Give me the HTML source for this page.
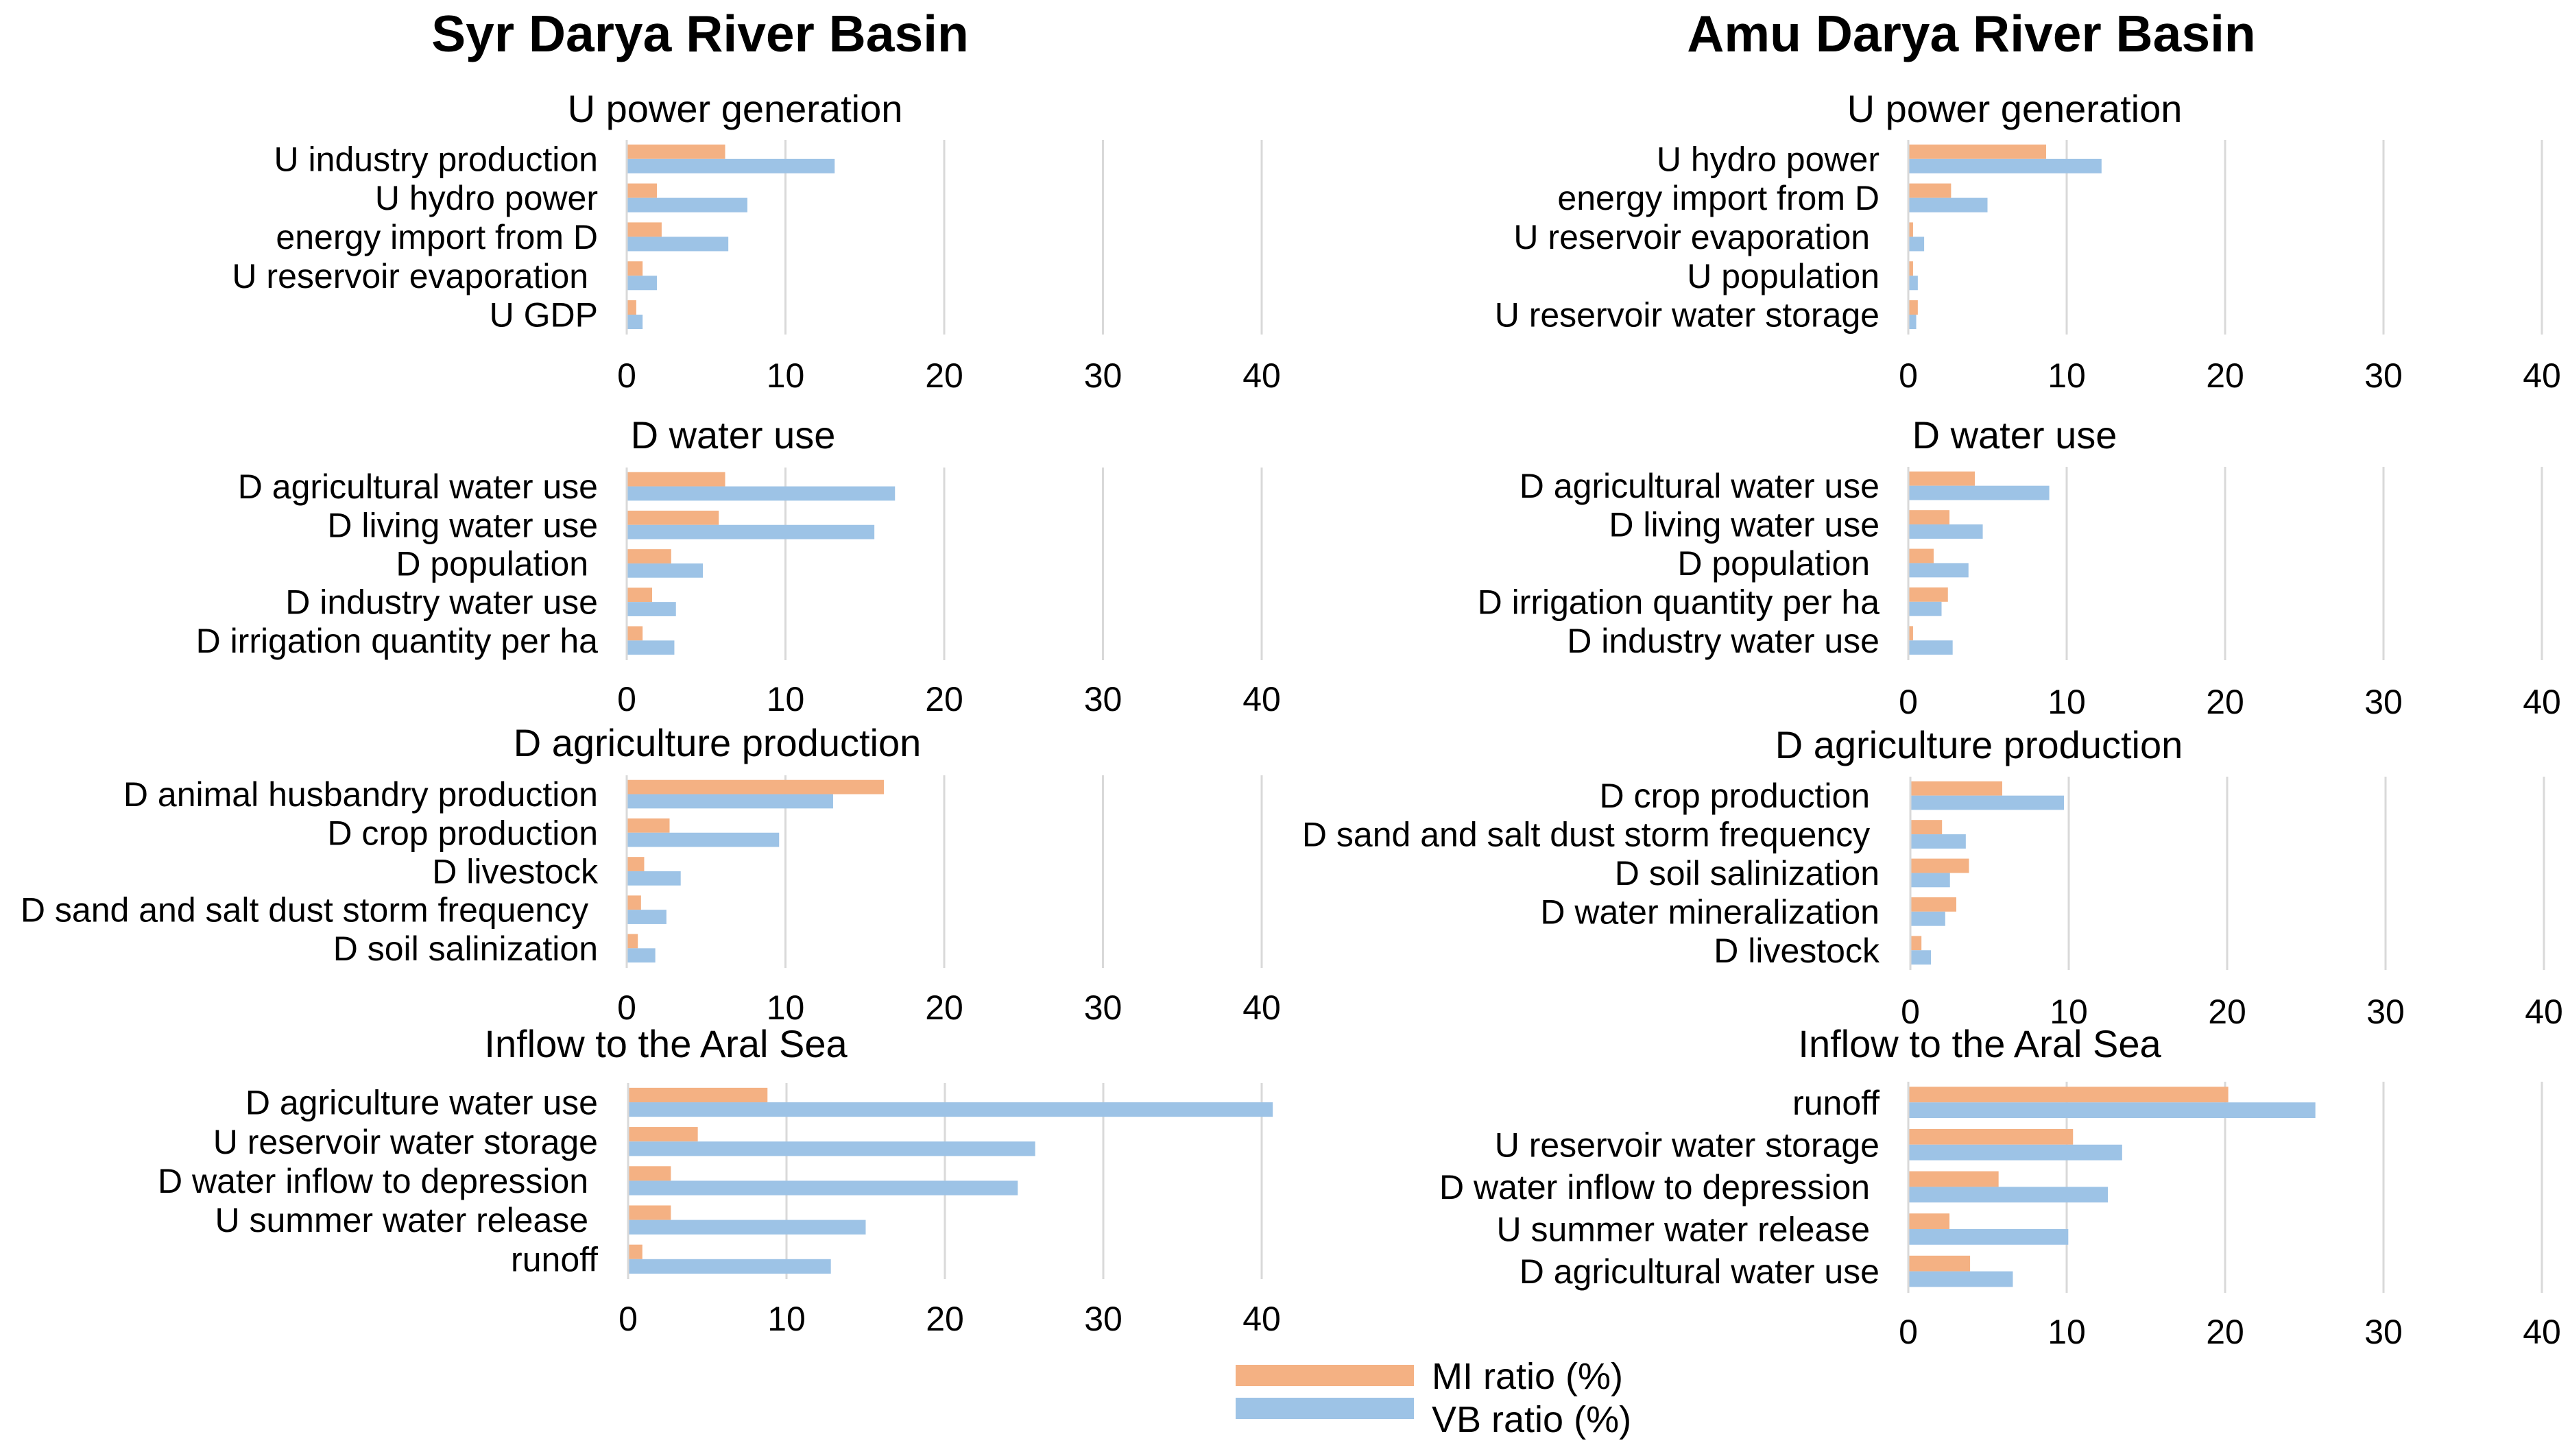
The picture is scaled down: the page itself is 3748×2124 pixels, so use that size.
<!DOCTYPE html>
<html><head><meta charset="utf-8">
<style>
html,body{margin:0;padding:0;background:#fff;}
svg{display:block;font-family:"Liberation Sans",Arial,sans-serif;}
</style></head>
<body>
<svg id="chart" width="3748" height="2124" viewBox="0 0 3748 2124" xmlns="http://www.w3.org/2000/svg">
<rect width="3748" height="2124" fill="#fff"/>
<text x="1021" y="75" font-size="75" font-weight="bold" text-anchor="middle">Syr Darya River Basin</text>
<text x="2875" y="75" font-size="75" font-weight="bold" text-anchor="middle">Amu Darya River Basin</text>
<g>
<rect x="1802" y="1991" width="260" height="31" fill="#F4B183"/>
<rect x="1802" y="2039" width="260" height="31" fill="#9DC3E6"/>
<text x="2088" y="2026" font-size="54">MI ratio (%)</text>
<text x="2088" y="2089" font-size="54">VB ratio (%)</text>
</g>
</svg>
<script>
// ---- data ----
const tickValues = [0, 10, 20, 30, 40];
const catsL1 = ["U industry production","U hydro power","energy import from D","U reservoir evaporation\u00a0","U GDP"];
const miL1 = [6.2, 1.9, 2.2, 1.0, 0.6];
const vbL1 = [13.1, 7.6, 6.4, 1.9, 1.0];
const catsL2 = ["D agricultural water use","D living water use","D population\u00a0","D industry water use","D irrigation quantity per ha"];
const miL2 = [6.2, 5.8, 2.8, 1.6, 1.0];
const vbL2 = [16.9, 15.6, 4.8, 3.1, 3.0];
const catsL3 = ["D animal husbandry production","D crop production","D livestock","D sand and salt dust storm frequency\u00a0","D soil salinization"];
const miL3 = [16.2, 2.7, 1.1, 0.9, 0.7];
const vbL3 = [13.0, 9.6, 3.4, 2.5, 1.8];
const catsL4 = ["D agriculture water use","U reservoir water storage","D water inflow to depression\u00a0","U summer water release\u00a0","runoff"];
const miL4 = [8.8, 4.4, 2.7, 2.7, 0.9];
const vbL4 = [40.7, 25.7, 24.6, 15.0, 12.8];
const catsR1 = ["U hydro power","energy import from D","U reservoir evaporation\u00a0","U population","U reservoir water storage"];
const miR1 = [8.7, 2.7, 0.3, 0.3, 0.6];
const vbR1 = [12.2, 5.0, 1.0, 0.6, 0.5];
const catsR2 = ["D agricultural water use","D living water use","D population\u00a0","D irrigation quantity per ha","D industry water use"];
const miR2 = [4.2, 2.6, 1.6, 2.5, 0.3];
const vbR2 = [8.9, 4.7, 3.8, 2.1, 2.8];
const catsR3 = ["D crop production\u00a0","D sand and salt dust storm frequency\u00a0","D soil salinization","D water mineralization","D livestock"];
const miR3 = [5.8, 2.0, 3.7, 2.9, 0.7];
const vbR3 = [9.7, 3.5, 2.5, 2.2, 1.3];
const catsR4 = ["runoff","U reservoir water storage","D water inflow to depression\u00a0","U summer water release\u00a0","D agricultural water use"];
const miR4 = [20.2, 10.4, 5.7, 2.6, 3.9];
const vbR4 = [25.7, 13.5, 12.6, 10.1, 6.6];
const titles = ["U power generation","D water use","D agriculture production","Inflow to the Aral Sea"];

// ---- layout ----
const NS = "http://www.w3.org/2000/svg";
const svg = document.getElementById("chart");
const layouts = [
 {id:"syr-power", cats:catsL1, mi:miL1, vb:vbL1, t:0, x0:914, unit:23.15, lx:872, tx:1072, ty:178, top:204, bot:488, ticky:548},
 {id:"syr-water", cats:catsL2, mi:miL2, vb:vbL2, t:1, x0:914, unit:23.15, lx:872, tx:1069, ty:654, top:682, bot:963, ticky:1020},
 {id:"syr-agri", cats:catsL3, mi:miL3, vb:vbL3, t:2, x0:914, unit:23.15, lx:872, tx:1046, ty:1103, top:1131, bot:1412, ticky:1470},
 {id:"syr-inflow", cats:catsL4, mi:miL4, vb:vbL4, t:3, x0:916, unit:23.1, lx:872, tx:971, ty:1542, top:1580, bot:1866, ticky:1924},
 {id:"amu-power", cats:catsR1, mi:miR1, vb:vbR1, t:0, x0:2783, unit:23.1, lx:2741, tx:2938, ty:178, top:204, bot:488, ticky:548},
 {id:"amu-water", cats:catsR2, mi:miR2, vb:vbR2, t:1, x0:2783, unit:23.1, lx:2741, tx:2938, ty:654, top:681, bot:963, ticky:1024},
 {id:"amu-agri", cats:catsR3, mi:miR3, vb:vbR3, t:2, x0:2786, unit:23.1, lx:2741, tx:2886, ty:1106, top:1133, bot:1415, ticky:1476},
 {id:"amu-inflow", cats:catsR4, mi:miR4, vb:vbR4, t:3, x0:2783, unit:23.1, lx:2741, tx:2887, ty:1542, top:1578, bot:1886, ticky:1943}
];
function mk(tag, attrs, parent){
  const e = document.createElementNS(NS, tag);
  for (const k in attrs) e.setAttribute(k, attrs[k]);
  parent.appendChild(e);
  return e;
}
layouts.forEach(p => {
  const g = mk("g", {}, svg);
  
  
  const xs = v => p.x0 + v * p.unit;
  const band = (p.bot - p.top) / p.cats.length;
  tickValues.forEach(v => {
    const l = mk("line", {x1:xs(v), x2:xs(v), y1:p.top, y2:p.bot, stroke:"#D9D9D9", "stroke-width":3}, g);
    
    
    const t = mk("text", {x:xs(v), y:p.ticky, "font-size":50, "text-anchor":"middle", "dominant-baseline":"central"}, g);
    t.textContent = String(v);
    
    
  });
  const st = mk("text", {x:p.tx, y:p.ty, "font-size":56, "text-anchor":"middle"}, g);
  st.textContent = titles[p.t];
  
  
  p.cats.forEach((c, i) => {
    const b0 = p.top + i * band;
    const bh = band * 0.37;
    const r1 = mk("rect", {x:xs(0), y:b0 + band*0.12, width:Math.max(0, xs(p.mi[i]) - xs(0)), height:bh, fill:"#F4B183"}, g);
    
    
    const r2 = mk("rect", {x:xs(0), y:b0 + band*0.49, width:Math.max(0, xs(p.vb[i]) - xs(0)), height:bh, fill:"#9DC3E6"}, g);
    
    
    const lb = mk("text", {x:p.lx, y:b0 + band*0.5, "font-size":50, "text-anchor":"end", "dominant-baseline":"central"}, g);
    lb.style.whiteSpace = "pre";
    lb.textContent = c;
    
    
  });
  const ax = mk("line", {x1:xs(0), x2:xs(0), y1:p.top, y2:p.bot, stroke:"#D9D9D9", "stroke-width":3}, g);
  
  
});
</script>
</body></html>
